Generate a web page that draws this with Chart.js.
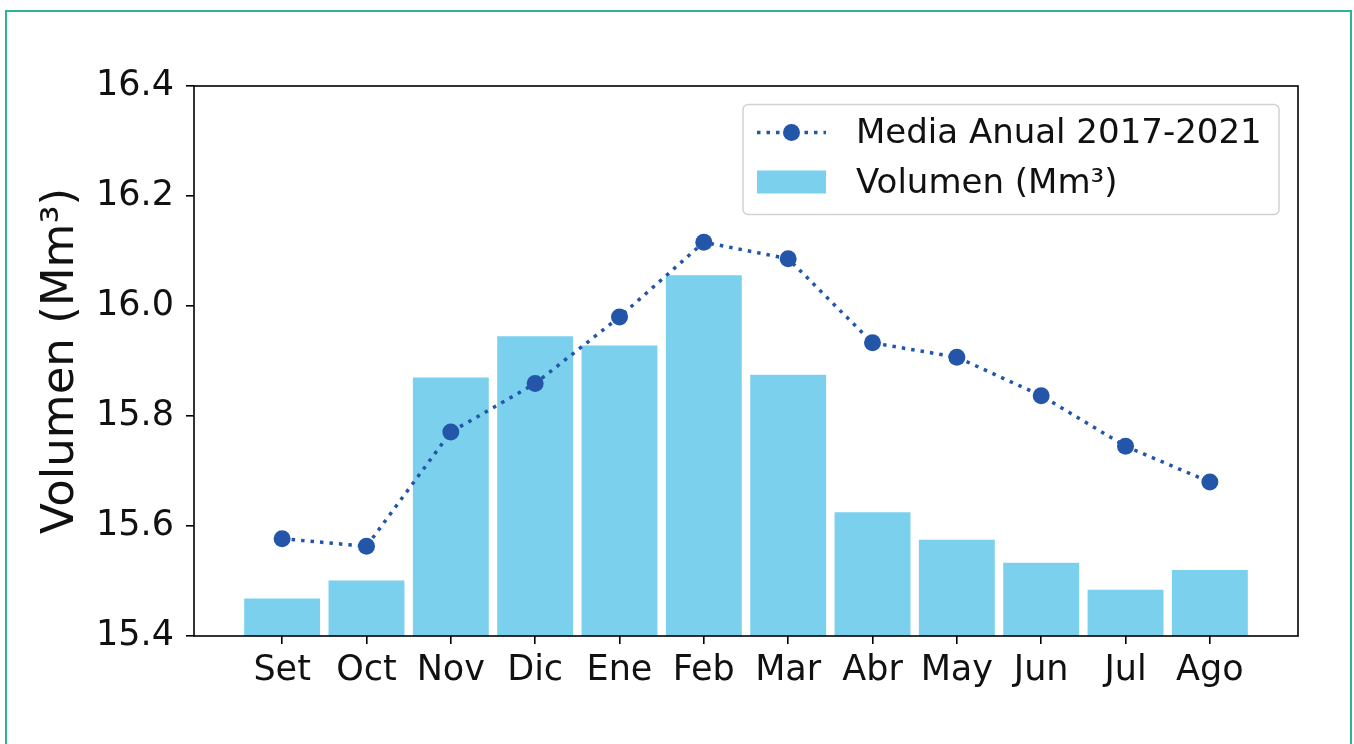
<!DOCTYPE html>
<html>
<head>
<meta charset="utf-8">
<title>Volumen mensual</title>
<script src="https://cdn.jsdelivr.net/npm/chart.js@4.4.1/dist/chart.umd.min.js"></script>
<style>
  html, body { margin: 0; padding: 0; background: #fff; overflow: hidden; }
  #wrap { position: relative; width: 1354px; height: 744px; }
  #frame {
    position: absolute; left: 5px; top: 10px; width: 1343px; height: 800px;
    border: 2px solid #2bb592; pointer-events: none;
  }
  canvas { position: absolute; left: 0; top: 0; }
</style>
</head>
<body>
<div id="wrap">
  <canvas id="chart" width="1354" height="744"></canvas>
  <div id="frame"></div>
</div>
<script>
// meses del año hidrológico
const months = ['Set', 'Oct', 'Nov', 'Dic', 'Ene', 'Feb', 'Mar', 'Abr', 'May', 'Jun', 'Jul', 'Ago']
// volumen mensual (Mm³)
const volumen = [15.468, 15.501, 15.870, 15.945, 15.928, 16.056, 15.875, 15.625, 15.575, 15.533, 15.484, 15.520]
// media anual 2017-2021
const media = [15.577, 15.563, 15.771, 15.859, 15.980, 16.116, 16.086, 15.933, 15.907, 15.837, 15.745, 15.680]
const yTicks = [15.4, 15.6, 15.8, 16.0, 16.2, 16.4]

const FONT = "'DejaVu Sans', sans-serif"
const lineColor = '#2356a8'
const barColor = '#7bd0ed'

// marco negro del área de trazado + leyenda dentro del gráfico
const framePlugin = {
  id: 'frameAndLegend',
  afterDatasetsDraw(chart) {
    const { ctx, chartArea: a } = chart
    ctx.save()
    ctx.strokeStyle = '#000'
    ctx.lineWidth = 1.6
    ctx.strokeRect(a.left, a.top, a.right - a.left, a.bottom - a.top)

    // leyenda
    const boxW = 536, boxH = 110
    const bx = a.right - 19 - boxW
    const by = a.top + 18.5
    ctx.fillStyle = 'rgba(255,255,255,0.8)'
    ctx.strokeStyle = '#d2d2d2'
    ctx.lineWidth = 1.5
    ctx.beginPath()
    ctx.roundRect(bx, by, boxW, boxH, 5)
    ctx.fill()
    ctx.stroke()

    const lineDs = chart.data.datasets[0]
    const barDs = chart.data.datasets[1]
    const sx = bx + 14, sw = 69
    const r1 = by + 28, r2 = by + 77.5

    ctx.strokeStyle = lineDs.borderColor
    ctx.lineWidth = lineDs.borderWidth
    ctx.setLineDash(lineDs.borderDash)
    ctx.beginPath()
    ctx.moveTo(sx, r1)
    ctx.lineTo(sx + sw, r1)
    ctx.stroke()
    ctx.setLineDash([])
    ctx.fillStyle = lineDs.pointBackgroundColor
    ctx.beginPath()
    ctx.arc(sx + sw / 2, r1, lineDs.pointRadius, 0, Math.PI * 2)
    ctx.fill()

    ctx.fillStyle = barDs.backgroundColor
    ctx.fillRect(sx, r2 - 11.5, sw, 23)

    ctx.fillStyle = '#111'
    ctx.font = '34px ' + FONT
    ctx.textBaseline = 'middle'
    ctx.textAlign = 'left'
    ctx.fillText(lineDs.label, sx + 99, r1 + 2)
    ctx.fillText(barDs.label, sx + 99, r2 + 2.5)
    ctx.restore()
  },
}

const ctx = document.getElementById('chart').getContext('2d')
new Chart(ctx, {
  data: {
    datasets: [
      {
        type: 'line',
        label: 'Media Anual 2017-2021',
        data: media.map((v, i) => ({ x: i, y: v })),
        borderColor: lineColor,
        borderWidth: 3.5,
        borderDash: [3.5, 6],
        pointRadius: 8.5,
        pointBackgroundColor: lineColor,
        pointBorderWidth: 0,
        fill: false,
        tension: 0,
        order: 0,
      },
      {
        type: 'bar',
        label: 'Volumen (Mm³)',
        data: volumen.map((v, i) => ({ x: i, y: v })),
        backgroundColor: barColor,
        borderWidth: 0,
        categoryPercentage: 1.0,
        barPercentage: 0.9,
        order: 1,
      },
    ],
  },
  options: {
    responsive: false,
    animation: false,
    devicePixelRatio: 1,
    layout: { padding: { left: 0, top: 86, right: 56, bottom: 0 } },
    plugins: {
      legend: { display: false },
      tooltip: { enabled: false },
    },
    scales: {
      x: {
        type: 'linear',
        offset: false,
        min: -1.045,
        max: 12.045,
        afterBuildTicks: scale => {
          scale.ticks = months.map((m, i) => ({ value: i }))
        },
        afterFit: scale => {
          scale.height = 108
        },
        grid: { offset: false, drawOnChartArea: false, drawTicks: true, tickLength: 8, color: '#000', lineWidth: 1.6 },
        border: { display: false },
        ticks: {
          autoSkip: false,
          maxRotation: 0,
          padding: 6,
          color: '#111',
          font: { family: FONT, size: 35 },
          callback: value => months[value],
        },
      },
      y: {
        min: 15.4,
        max: 16.4,
        afterBuildTicks: scale => {
          scale.ticks = yTicks.map(v => ({ value: v }))
        },
        afterFit: scale => {
          scale.width = 194
        },
        grid: { drawOnChartArea: false, drawTicks: true, tickLength: 8, color: '#000', lineWidth: 1.6 },
        border: { display: false },
        title: {
          display: true,
          text: 'Volumen (Mm³)',
          color: '#111',
          font: { family: FONT, size: 45 },
          padding: { top: 34, bottom: 0 },
        },
        ticks: {
          padding: 12,
          color: '#111',
          font: { family: FONT, size: 35 },
          callback: value => value.toFixed(1),
        },
      },
    },
  },
  plugins: [framePlugin],
})
</script>
</body>
</html>
